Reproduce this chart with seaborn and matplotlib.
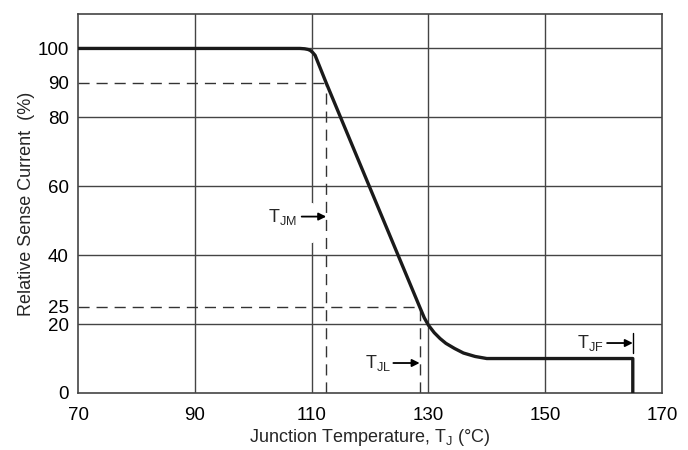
import matplotlib
matplotlib.use("Agg")
import matplotlib.pyplot as plt
import seaborn as sns
import pandas as pd

# curve (temperature in °C, relative sense current in %)
temp = [70, 100, 108, 108.8, 109.4, 109.8, 110.2, 110.6, 112.5, 120, 128.5, 129.3, 130, 131, 132, 133, 134.5, 136, 138, 140, 150, 165, 165]
current = [100, 100, 100, 99.9, 99.7, 99.4, 98.8, 98, 90, 59.5, 25, 21.8, 19.7, 17.5, 15.8, 14.4, 12.9, 11.6, 10.6, 10, 10, 10, 0]

x_ticks = [70, 90, 110, 130, 150, 170]
y_ticks = [0, 20, 25, 40, 60, 80, 90, 100]
grid_x = [90, 110, 130, 150]
grid_y = [20, 40, 60, 80, 100]

# marker points
t_jm, i_jm = 112.5, 90
t_jl, i_jl = 128.5, 25
t_jf = 165

df = pd.DataFrame({"temp": temp, "current": current})

sns.set_theme(style="white")
plt.rcParams["font.family"] = ["Liberation Sans", "DejaVu Sans"]
plt.rcParams["mathtext.default"] = "regular"

fig = plt.figure(figsize=(6.88, 4.5), dpi=100)
ax = fig.add_axes([0.1134, 0.1267, 0.8488, 0.8422])

grid_col = "#444444"
for gx in grid_x:
    ax.axvline(gx, color=grid_col, lw=1.0, zorder=1)
for gy in grid_y:
    ax.axhline(gy, color=grid_col, lw=1.0, zorder=1)
# gap in the 110 line where the T_JM arrow passes
ax.plot([110, 110], [44, 54.5], color="white", lw=3, zorder=1.5)

dash = dict(color="#333333", lw=1.0, dashes=(8, 5), zorder=2)
ax.plot([70, t_jm], [i_jm, i_jm], **dash)
ax.plot([t_jm, t_jm], [0, i_jm], **dash)
ax.plot([70, t_jl], [i_jl, i_jl], **dash)
ax.plot([t_jl, t_jl], [0, i_jl], **dash)

sns.lineplot(data=df, x="temp", y="current", sort=False, estimator=None,
             color="#1a1a1a", lw=2.4, ax=ax, zorder=3)

# T_JF tick
ax.plot([t_jf, t_jf], [11.5, 17.5], color="black", lw=1.0, zorder=3)

arrow = dict(arrowstyle="-|>", color="black", lw=1.3, mutation_scale=11, shrinkA=0, shrinkB=0)
fs_lab = 13
ax.annotate("", xy=(t_jm, 51.2), xytext=(108.3, 51.2), arrowprops=arrow, zorder=4)
ax.text(107.5, 51.2, "T$_{JM}$", ha="right", va="center", fontsize=fs_lab)
ax.annotate("", xy=(t_jl, 8.7), xytext=(124.0, 8.7), arrowprops=arrow, zorder=4)
ax.text(123.6, 8.7, "T$_{JL}$", ha="right", va="center", fontsize=fs_lab)
ax.annotate("", xy=(t_jf, 14.5), xytext=(160.6, 14.5), arrowprops=arrow, zorder=4)
ax.text(160.0, 14.5, "T$_{JF}$", ha="right", va="center", fontsize=fs_lab)

ax.set_xlim(70, 170)
ax.set_ylim(0, 110)
ax.set_xticks(x_ticks)
ax.set_yticks(y_ticks)
ax.tick_params(axis="both", length=0, labelsize=13.5, colors="black")
ax.tick_params(axis="x", pad=10)
ax.tick_params(axis="y", pad=6.5)
ax.set_xlabel("Junction Temperature, T$_J$ (°C)", fontsize=13, labelpad=2)
ax.set_ylabel("Relative Sense Current  (%)", fontsize=13, labelpad=2)
for s in ax.spines.values():
    s.set_color("#444444")
    s.set_linewidth(1.2)

plt.savefig("out.png", dpi=100)
